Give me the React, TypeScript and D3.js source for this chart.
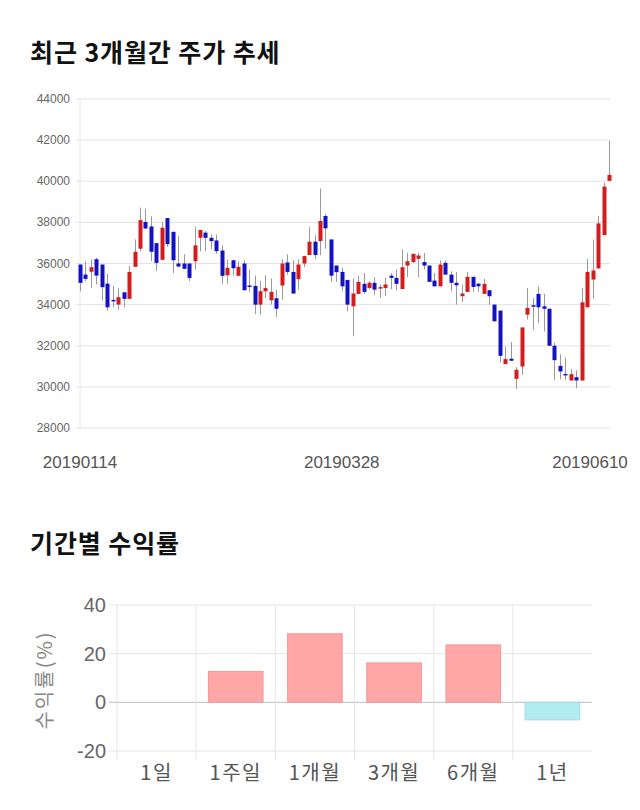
import React from 'react';
import * as d3 from 'd3';

// candle data (Korean colours: red = up, blue = down)
const opens = [35950, 35460, 35600, 36210, 35950, 35020, 34230, 34000, 34600, 34280, 35840, 36720, 38020, 37800, 36990, 36180, 38210, 37540, 36000, 36000,
  36000, 36110, 37250, 37500, 37250, 37120, 36630, 35430, 36160, 35400, 36000, 34930, 34910, 34000, 34650, 34210, 34310, 34930, 36050, 35590,
  35240, 36000, 36410, 37060, 37090, 38310, 37170, 35900, 35590, 35200, 33920, 34520, 35010, 34810, 35060, 34780, 34810, 35410, 35300, 34760,
  35900, 36070, 36230, 36070, 35900, 35170, 34890, 36030, 35460, 35060, 34410, 34620, 35350, 35020, 34520, 34700, 34000, 33710, 31110, 31370,
  30390, 30990, 33510, 33970, 34520, 33920, 33800, 32000, 31020, 30630, 30310, 30470, 30310, 33870, 35220, 35760, 37380, 40020];
const highs = [35950, 36100, 36200, 36280, 35950, 35500, 34900, 34800, 34600, 35870, 37170, 38720, 38670, 38300, 36990, 38030, 38210, 37540, 37330, 36440,
  36000, 37790, 37630, 37580, 37410, 37410, 36880, 36200, 36160, 36110, 36160, 35710, 35410, 35140, 35430, 35270, 34730, 36200, 36440, 36160,
  36200, 36360, 37770, 37380, 39640, 38420, 37170, 35900, 35790, 35200, 35270, 35410, 35540, 35140, 35340, 34980, 35300, 35540, 35710, 36680,
  36520, 36470, 36520, 36520, 35900, 35540, 36150, 36150, 35620, 35590, 34980, 35590, 35350, 35020, 35250, 34700, 34000, 33710, 31970, 32180,
  30950, 32890, 34810, 34320, 34890, 34520, 33800, 32160, 31590, 31430, 30860, 30800, 34810, 36230, 37170, 38310, 39930, 41970];
const lows = [34650, 35140, 34810, 34980, 34200, 33700, 33870, 33750, 33870, 34280, 35840, 36600, 37700, 36110, 35630, 36180, 36810, 35530, 35850, 35740,
  35140, 35710, 36600, 36600, 36680, 36470, 35010, 35010, 35430, 35380, 34700, 34620, 33540, 33510, 34320, 34000, 33400, 34240, 35460, 34540,
  34730, 35820, 36410, 36200, 36400, 36720, 35110, 35110, 34650, 33670, 32460, 34520, 34520, 34730, 34460, 34330, 34420, 34760, 34700, 34760,
  35330, 36030, 35330, 35710, 35110, 34890, 34890, 35460, 34650, 34000, 34130, 34620, 34620, 34620, 34520, 34000, 33190, 31190, 31110, 31270,
  29900, 30590, 33270, 32780, 33110, 32700, 32000, 30340, 30370, 30340, 30310, 29930, 30310, 33870, 34280, 35760, 37380, 40020];
const closes = [35060, 35250, 35820, 35410, 34850, 33870, 34200, 34360, 34280, 35590, 36570, 38110, 37700, 36570, 36030, 37740, 36940, 36160, 35850, 35740,
  35300, 36880, 37630, 37250, 37090, 36600, 35400, 35790, 35770, 35840, 34700, 34900, 34000, 34650, 34810, 34620, 33800, 36000, 35590, 34540,
  35950, 36360, 37060, 36410, 38070, 37710, 35410, 35580, 34890, 34000, 34540, 35110, 34620, 35060, 34730, 34850, 34980, 35300, 35010, 35820,
  36110, 36470, 36390, 35900, 35110, 34890, 35950, 35460, 35060, 34940, 34540, 35350, 34860, 34890, 35010, 34410, 33190, 31510, 31350, 31270,
  30830, 32890, 33840, 33900, 33870, 33800, 32000, 31300, 30750, 30590, 30620, 30310, 34110, 35590, 35660, 37950, 39740, 40310];
const dateTicks = ['20190114', '20190328', '20190610'];
const dateTickIdx = [0, 48, 97];
const priceTicks = [28000, 30000, 32000, 34000, 36000, 38000, 40000, 42000, 44000];

// returns by period
const periods = ['1일', '1주일', '1개월', '3개월', '6개월', '1년'];
const returns = [0, 12.7, 28.2, 16.2, 23.6, -7.2];
const returnTicks = [-20, 0, 20, 40];

const krFont = '"Noto Sans CJK KR", "Noto Sans", sans-serif';
const numFont = '"Liberation Sans", Arial, sans-serif';

const App: React.FC = () => {
  // candle chart
  const cx = d3.scaleLinear().domain([0, opens.length - 1]).range([80, 609]);
  const cy = d3.scaleLinear().domain([28000, 44000]).range([428, 99]);
  const bodyW = 4;

  // bar chart
  const bx = d3.scaleBand().domain(periods).range([117, 592]);
  const by = d3.scaleLinear().domain([-20, 40]).range([751, 605]);
  const barW = bx.bandwidth() * 0.69;

  return (
    <svg width={640} height={810} style={{ position: 'absolute', left: 0, top: 0, background: '#fff' }}>
      <text x={30} y={62} fontFamily={krFont} fontWeight="bold" fontSize={25} letterSpacing={0.9} fill="#111">최근 3개월간 주가 추세</text>

      {priceTicks.map(t => (
        <g key={t}>
          <line x1={76} x2={610} y1={cy(t)} y2={cy(t)} stroke="#e3e3e3" />
          <text x={70} y={cy(t) + 4} textAnchor="end" fontFamily={numFont} fontSize={12} fill="#666">{t}</text>
        </g>
      ))}
      <line x1={80} x2={80} y1={99} y2={428} stroke="#e6e6e6" />

      {opens.map((o, i) => {
        const c = closes[i];
        const up = c >= o;
        const top = cy(Math.max(o, c));
        const h = Math.max(1.5, cy(Math.min(o, c)) - top);
        const x = Math.round(cx(i));
        return (
          <g key={i}>
            <line x1={x + 0.5} x2={x + 0.5} y1={cy(highs[i])} y2={cy(lows[i])} stroke="#999" />
            <rect x={x + 0.5 - bodyW / 2} y={top} width={bodyW} height={h} fill={up ? '#d41c1c' : '#1212c4'} />
          </g>
        );
      })}

      {dateTicks.map((d, k) => (
        <text key={d} x={Math.min(cx(dateTickIdx[k]), 590)} y={468} textAnchor="middle" fontFamily={numFont} fontSize={17} fill="#555">{d}</text>
      ))}

      <text x={30} y={553} fontFamily={krFont} fontWeight="bold" fontSize={25} letterSpacing={0.9} fill="#111">기간별 수익률</text>

      {returnTicks.map(t => (
        <g key={t}>
          <line x1={109} x2={592} y1={by(t)} y2={by(t)} stroke={t === 0 ? '#bdbdbd' : '#e6e6e6'} />
          <text x={106} y={by(t) + 7} textAnchor="end" fontFamily={numFont} fontSize={20} fill="#666">{t}</text>
        </g>
      ))}
      {periods.map(p => (
        <line key={p} x1={bx(p)!} x2={bx(p)!} y1={605} y2={760} stroke="#e6e6e6" />
      ))}
      {periods.map((p, i) => {
        const v = returns[i];
        if (v === 0) return null;
        const y0 = by(Math.max(0, v));
        const h = Math.abs(by(v) - by(0));
        return (
          <rect key={p} x={bx(p)! + (bx.bandwidth() - barW) / 2} y={y0} width={barW} height={h}
            fill={v > 0 ? '#ffa6a6' : '#b2ebf2'} stroke={v > 0 ? '#f09a9a' : '#9adce6'} />
        );
      })}
      {periods.map(p => (
        <text key={p} x={bx(p)! + bx.bandwidth() / 2} y={780} textAnchor="middle" fontFamily={krFont} fontSize={20} letterSpacing={1.5} fill="#555">{p}</text>
      ))}
      <text transform="translate(52,680) rotate(-90)" textAnchor="middle" fontFamily={krFont} fontSize={20} letterSpacing={2} fill="#888">수익률(%)</text>
    </svg>
  );
};

export default App;
